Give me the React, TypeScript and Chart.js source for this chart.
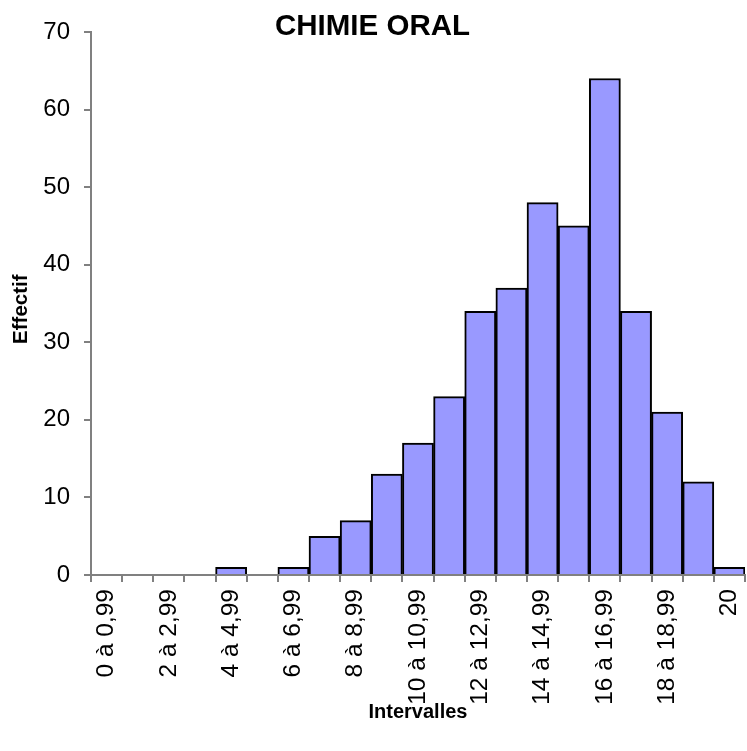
import React, { useEffect, useRef } from "react";
import { Chart, registerables } from "chart.js";

Chart.register(...registerables);

const categories: string[] = [
  "0 à 0,99", "1 à 1,99", "2 à 2,99", "3 à 3,99", "4 à 4,99", "5 à 5,99",
  "6 à 6,99", "7 à 7,99", "8 à 8,99", "9 à 9,99", "10 à 10,99", "11 à 11,99",
  "12 à 12,99", "13 à 13,99", "14 à 14,99", "15 à 15,99", "16 à 16,99",
  "17 à 17,99", "18 à 18,99", "19 à 19,99", "20",
];
const effectif: number[] = [0, 0, 0, 0, 1, 0, 1, 5, 7, 13, 17, 23, 34, 37, 48, 45, 64, 34, 21, 12, 1];
const yMin = 0;
const yMax = 70;
const yStep = 10;
const chartTitle = "CHIMIE ORAL";
const xTitle = "Intervalles";
const yTitle = "Effectif";

const FONT = "'Liberation Sans', Arial, sans-serif";

export default function App() {
  const ref = useRef<HTMLCanvasElement | null>(null);
  useEffect(() => {
    if (!ref.current) return;
    const chart = new Chart(ref.current, {
      type: "bar",
      data: {
        labels: categories,
        datasets: [
          {
            label: yTitle,
            data: effectif,
            backgroundColor: "#9999FF",
            borderColor: "#000000",
            borderWidth: 2,
            barPercentage: 1,
            categoryPercentage: 1,
          },
        ],
      },
      options: {
        animation: false,
        responsive: true,
        maintainAspectRatio: false,
        layout: { padding: { left: 0, right: 2, top: 0, bottom: 0 } },
        plugins: {
          legend: { display: false },
          tooltip: { enabled: false },
          title: {
            display: true,
            text: chartTitle,
            color: "#000",
            font: { family: FONT, size: 29.5, weight: "bold", lineHeight: 1.2 },
            padding: { top: 9, bottom: -12.4 },
          },
        },
        scales: {
          x: {
            offset: true,
            afterFit: (s: any) => {
              s.height = 176;
              s.paddingLeft = 0;
              s.paddingRight = 0;
            },
            grid: {
              display: true,
              offset: true,
              drawOnChartArea: false,
              drawTicks: true,
              tickLength: 7,
              color: "#808080",
              lineWidth: 2,
            },
            border: { display: true, color: "#808080", width: 2 },
            ticks: {
              autoSkip: false,
              maxRotation: 90,
              minRotation: 90,
              padding: 7,
              color: "#000",
              font: { family: FONT, size: 24.5 },
              callback: function (this: any, _v: any, i: number) {
                return i % 2 === 0 ? categories[i] : "";
              },
            },
            title: {
              display: true,
              text: xTitle,
              color: "#000",
              font: { family: FONT, size: 20, weight: "bold", lineHeight: 1.2 },
              padding: { top: 0, bottom: 27 },
            },
          },
          y: {
            min: yMin,
            max: yMax,
            afterFit: (s: any) => {
              s.width = 91;
            },
            grid: {
              display: true,
              drawOnChartArea: false,
              drawTicks: true,
              tickLength: 7,
              color: "#808080",
              lineWidth: 2,
            },
            border: { display: true, color: "#808080", width: 2 },
            ticks: {
              stepSize: yStep,
              padding: 14,
              color: "#000",
              font: { family: FONT, size: 24 },
            },
            title: {
              display: true,
              text: yTitle + "  ",
              color: "#000",
              font: { family: FONT, size: 20.5, weight: "bold", lineHeight: 1.2 },
              padding: { top: 9, bottom: 0 },
            },
          },
        },
      },
    });
    return () => chart.destroy();
  }, []);
  return (
    <div style={{ position: "absolute", left: 0, top: 0, width: 747, height: 751, background: "#fff" }}>
      <canvas ref={ref} style={{ display: "block" }} />
    </div>
  );
}
